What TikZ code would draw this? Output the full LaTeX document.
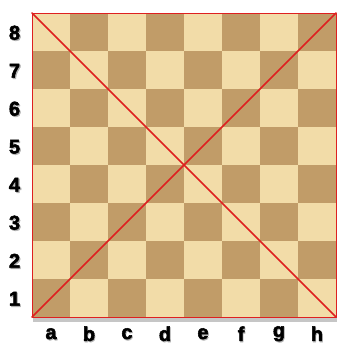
\documentclass[tikz,border=0pt]{standalone}
\usepackage{fontspec}
\setmainfont{Liberation Sans}
\newfontfamily\boardfont[FakeBold=2.5]{Liberation Sans Bold}
\usetikzlibrary{shadows}
\begin{document}
\begin{tikzpicture}[line cap=round, line join=round]
  \definecolor{woodlight}{RGB}{242,220,168}
  \definecolor{wooddark}{RGB}{193,156,104}
  \definecolor{diagred}{RGB}{222,32,32}
  \tikzset{coordlabel/.style={font=\fontsize{15}{16}\boardfont, text=black}}
  \useasboundingbox (-0.842,-0.737) rectangle (8.053,8.342);
  \coordinate (A1) at (0,0);
  \coordinate (H1) at (8,0);
  \coordinate (A8) at (0,8);
  \coordinate (H8) at (8,8);
  % board with shadow
  \fill[woodlight, drop shadow={shadow xshift=0.03, shadow yshift=-0.14, opacity=0.45}] (A1) rectangle (H8);
  \foreach \i in {0,...,7}
    \foreach \j in {0,...,7} {
      \pgfmathparse{int(mod(\i+\j,2))}
      \ifnum\pgfmathresult=0
        \fill[wooddark] (\i,\j) rectangle ++(1,1);
      \fi
    }
  \draw[diagred, line width=0.7pt] (A1) rectangle (H8);
  \draw[diagred, line width=1.1pt] (A1)--(H8);
  \draw[diagred, line width=1.1pt] (A8)--(H1);
  % ranks and files
  \foreach \r in {1,...,8} {
    \node[coordlabel, text=black!30] at (-0.43,\r-0.55) {\r};
    \node[coordlabel] (rank\r) at (-0.46,\r-0.52) {\r};
  }
  \foreach \f [count=\k] in {a,b,c,d,e,f,g,h} {
    \node[coordlabel, text=black!30] at (\k-0.48,-0.47) {\f};
    \node[coordlabel] (file\f) at (\k-0.5,-0.44) {\f};
  }
\end{tikzpicture}
\end{document}
